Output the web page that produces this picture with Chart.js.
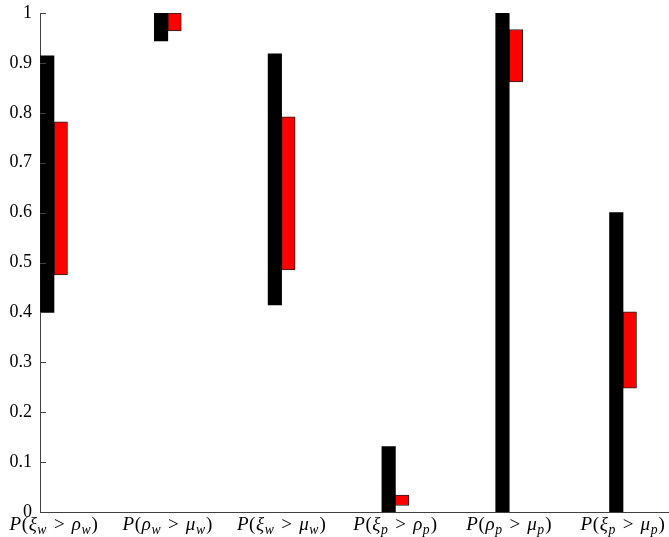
<!DOCTYPE html>
<html>
<head>
<meta charset="utf-8">
<script src="https://cdn.jsdelivr.net/npm/chart.js@4"></script>
<style>
  html, body { margin: 0; padding: 0; background: #fff; }
  #wrap { width: 669px; height: 537px; position: relative; }
</style>
</head>
<body>
<div id="wrap"><canvas id="chart"></canvas></div>
<script>
// category labels, '_' marks a subscript
const categories = ['P(ξ_w > ρ_w)', 'P(ρ_w > μ_w)', 'P(ξ_w > μ_w)', 'P(ξ_p > ρ_p)', 'P(ρ_p > μ_p)', 'P(ξ_p > μ_p)'];
const blackLow = [0.40, 0.944, 0.415, 0, 0, 0];
const blackHigh = [0.914, 1.0, 0.918, 0.131, 1.0, 0.600];
const redLow = [0.475, 0.964, 0.485, 0.013, 0.862, 0.248];
const redHigh = [0.782, 1.0, 0.792, 0.034, 0.967, 0.401];
const yTickLabels = ['0', '0.1', '0.2', '0.3', '0.4', '0.5', '0.6', '0.7', '0.8', '0.9', '1'];

const SERIF = "'Liberation Serif', 'DejaVu Serif', serif";
const AXIS = '#404040';

const toPoints = (lo, hi) => lo.map((v, i) => ({ x: i + 1, y: [v, hi[i]] }));

// draws a math-like label: italic letters, upright brackets, small subscripts
function drawMathLabel(ctx, text, cx, baseline, size) {
  const parts = [];
  for (let i = 0; i < text.length; i++) {
    const c = text[i];
    if (c === '_') {
      parts.push({ t: text[i + 1], sub: true });
      i += 1;
    } else if (c === ' ') {
      parts.push({ gap: size * 0.34 });
    } else {
      parts.push({ t: c, sub: false, upright: '()>'.includes(c) });
    }
  }
  const fontFor = (p) => {
    const s = p.sub ? size * 0.72 : size;
    return `${p.upright ? '' : 'italic '}${s}px ${SERIF}`;
  };
  let width = 0;
  parts.forEach((p) => {
    if (p.gap) { p.w = p.gap; } else { ctx.font = fontFor(p); p.w = ctx.measureText(p.t).width + (p.sub ? 1 : 0.6); }
    width += p.w;
  });
  let px = cx - width / 2;
  ctx.textAlign = 'left';
  ctx.textBaseline = 'alphabetic';
  parts.forEach((p) => {
    if (!p.gap) {
      ctx.font = fontFor(p);
      ctx.fillText(p.t, px, p.sub ? baseline + size * 0.2 : baseline);
    }
    px += p.w;
  });
}

const axisExtras = {
  id: 'axisExtras',
  afterDraw(chart) {
    const { ctx, scales: { x, y } } = chart;
    ctx.save();
    ctx.strokeStyle = AXIS;
    ctx.lineWidth = 1;
    y.ticks.forEach((t) => {
      const py = Math.round(y.getPixelForValue(t.value)) + 0.5;
      ctx.beginPath();
      ctx.moveTo(x.left, py);
      ctx.lineTo(x.left + 6, py);
      ctx.stroke();
    });
    ctx.fillStyle = '#000';
    categories.forEach((label, i) => {
      drawMathLabel(ctx, label, x.getPixelForValue(i + 1), 530, 19);
    });
    ctx.restore();
  },
};

new Chart(document.getElementById('chart'), {
  type: 'bar',
  data: {
    datasets: [
      {
        label: 'black',
        data: toPoints(blackLow, blackHigh),
        backgroundColor: '#000000',
        borderColor: '#000000',
        borderWidth: 0,
        barThickness: 13.5,
      },
      {
        label: 'red',
        data: toPoints(redLow, redHigh),
        backgroundColor: '#ff0000',
        borderColor: '#222222',
        borderWidth: 1,
        borderSkipped: false,
        barThickness: 13.5,
      },
    ],
  },
  options: {
    responsive: true,
    maintainAspectRatio: false,
    animation: false,
    layout: { padding: { top: 13, right: 0, left: 0, bottom: 0 } },
    plugins: {
      legend: { display: false },
      tooltip: { enabled: false },
    },
    scales: {
      x: {
        type: 'linear',
        offset: false,
        min: 0.877,
        max: 6.404,
        grid: { display: false, drawTicks: false },
        border: { display: true, color: AXIS, width: 1 },
        ticks: { display: false },
        afterFit: (scale) => { scale.height = 25; },
      },
      y: {
        min: 0,
        max: 1,
        grid: { display: false, drawTicks: false },
        border: { display: true, color: AXIS, width: 1 },
        ticks: {
          stepSize: 0.1,
          padding: 8,
          color: '#000',
          font: { family: SERIF, size: 18 },
          callback: (v, i) => yTickLabels[i],
        },
        afterFit: (scale) => {
          scale.width = 40;
          scale.paddingTop = 0;
          scale.paddingBottom = 0;
        },
      },
    },
  },
  plugins: [axisExtras],
});
</script>
</body>
</html>
